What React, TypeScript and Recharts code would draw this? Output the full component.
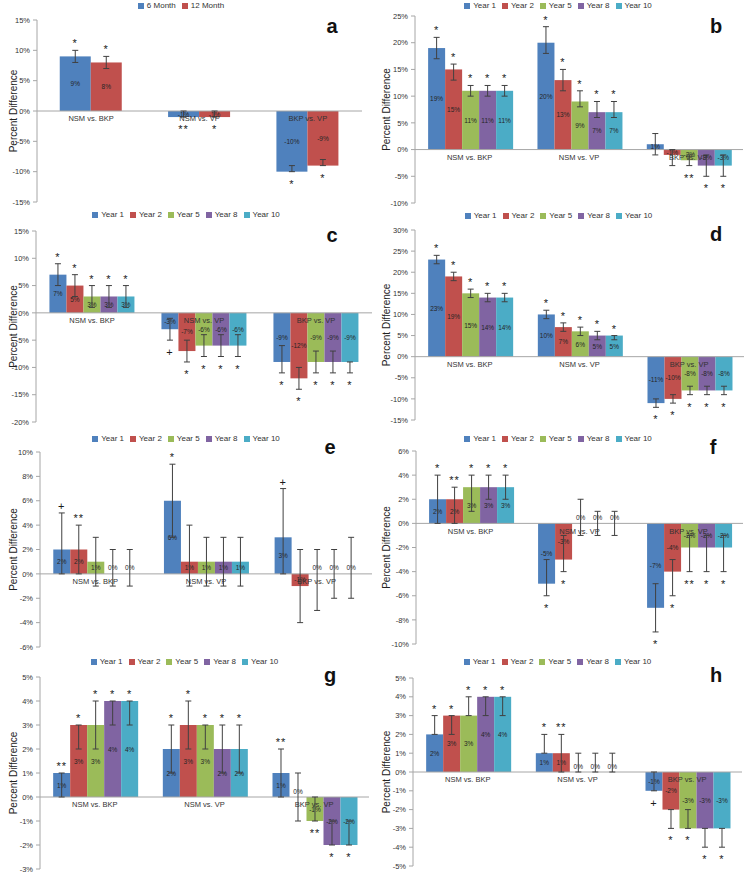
import React from "react";
import {
  Bar,
  BarChart,
  ErrorBar,
  Legend,
  ReferenceDot,
  ReferenceLine,
  XAxis,
  YAxis,
} from "recharts";

const categories = ["NSM vs. BKP", "NSM vs. VP", "BKP vs. VP"];
const monthSeries = ["6 Month", "12 Month"];
const yearSeries = ["Year 1", "Year 2", "Year 5", "Year 8", "Year 10"];
const monthColors = ["#4F81BD", "#C0504D"];
const yearColors = ["#4F81BD", "#C0504D", "#9BBB59", "#8064A2", "#4BACC6"];

// each row is a series, columns follow categories
const aValues = [[9, -1, -10], [8, -1, -9]];
const aLow = [[8, -1, -10], [7, -1, -9]];
const aHigh = [[10, 0, -9], [9, 0, -8]];
const aMarks = [["*", "**", "*"], ["*", "*", "*"]];
const aTicks = [-15, -10, -5, 0, 5, 10, 15];

const bValues = [[19, 20, 1], [15, 13, -1], [11, 9, -2], [11, 7, -3], [11, 7, -3]];
const bLow = [[17, 18, -1], [13, 11, -3], [10, 8, -3], [10, 6, -5], [10, 6, -5]];
const bHigh = [[21, 23, 3], [16, 15, 0], [12, 11, -1], [12, 9, -1], [12, 9, -1]];
const bMarks = [["*", "*", ""], ["*", "*", ""], ["*", "*", "**"], ["*", "*", "*"], ["*", "*", "*"]];
const bTicks = [-10, -5, 0, 5, 10, 15, 20, 25];

const cValues = [[7, -3, -9], [5, -7, -12], [3, -6, -9], [3, -6, -9], [3, -6, -9]];
const cLow = [[5, -5, -11], [3, -9, -14], [1, -8, -11], [1, -8, -11], [1, -8, -11]];
const cHigh = [[9, -1, -6], [7, -5, -10], [5, -4, -7], [5, -4, -7], [5, -4, -9]];
const cMarks = [["*", "+", "*"], ["*", "*", "*"], ["*", "*", "*"], ["*", "*", "*"], ["*", "*", "*"]];
const cTicks = [-20, -15, -10, -5, 0, 5, 10, 15];

const dValues = [[23, 10, -11], [19, 7, -10], [15, 6, -8], [14, 5, -8], [14, 5, -8]];
const dLow = [[22, 9, -12], [18, 6, -11], [14, 5, -9], [13, 4, -9], [13, 4, -9]];
const dHigh = [[24, 11, -10], [20, 8, -9], [16, 7, -7], [15, 6, -7], [15, 5, -7]];
const dMarks = [["*", "*", "*"], ["*", "*", "*"], ["*", "*", "*"], ["*", "*", "*"], ["*", "*", "*"]];
const dTicks = [-15, -10, -5, 0, 5, 10, 15, 20, 25, 30];

const eValues = [[2, 6, 3], [2, 1, -1], [1, 1, 0], [0, 1, 0], [0, 1, 0]];
const eLow = [[0, 3, 0], [0, -1, -4], [-1, -1, -3], [-1, -1, -2], [-1, -1, -2]];
const eHigh = [[5, 9, 7], [4, 4, 2], [3, 3, 2], [2, 3, 2], [2, 3, 3]];
const eMarks = [["+", "*", "+"], ["**", "", ""], ["", "", ""], ["", "", ""], ["", "", ""]];
const eTicks = [-6, -4, -2, 0, 2, 4, 6, 8, 10];

const fValues = [[2, -5, -7], [2, -3, -4], [3, 0, -2], [3, 0, -2], [3, 0, -2]];
const fLow = [[0, -6, -9], [0, -4, -6], [1, -1, -4], [2, -1, -4], [2, -1, -4]];
const fHigh = [[4, -3, -5], [3, -1, -3], [4, 2, -1], [4, 1, -1], [4, 1, -1]];
const fMarks = [["*", "*", "*"], ["**", "*", "*"], ["*", "", "**"], ["*", "", "*"], ["*", "", "*"]];
const fTicks = [-10, -8, -6, -4, -2, 0, 2, 4, 6];

const gValues = [[1, 2, 1], [3, 3, 0], [3, 3, -1], [4, 2, -2], [4, 2, -2]];
const gLow = [[0, 1, 0], [2, 2, -1], [2, 2, -1], [3, 1, -2], [3, 1, -2]];
const gHigh = [[1, 3, 2], [3, 4, 1], [4, 3, 0], [4, 3, -1], [4, 3, -1]];
const gMarks = [["**", "*", "**"], ["*", "*", ""], ["*", "*", "**"], ["*", "*", "*"], ["*", "*", "*"]];
const gTicks = [-3, -2, -1, 0, 1, 2, 3, 4, 5];

const hValues = [[2, 1, -1], [3, 1, -2], [3, 0, -3], [4, 0, -3], [4, 0, -3]];
const hLow = [[2, 1, -1], [2, 0, -3], [3, 0, -3], [3, 0, -4], [3, 0, -4]];
const hHigh = [[3, 2, 0], [3, 2, -2], [4, 1, -2], [4, 1, -3], [4, 1, -3]];
const hMarks = [["*", "*", "+"], ["*", "**", "*"], ["*", "", "*"], ["*", "", "*"], ["*", "", "*"]];
const hTicks = [-5, -4, -3, -2, -1, 0, 1, 2, 3, 4, 5];

function buildRows(values: number[][], lows: number[][], highs: number[][], marks: string[][]) {
  return categories.map((name, c) => {
    const row: Record<string, any> = { name };
    values.forEach((vals, s) => {
      const v = vals[c];
      row[`s${s}`] = v;
      row[`s${s}_err`] = [v - lows[s][c], highs[s][c] - v];
      row[`s${s}_lo`] = lows[s][c];
      row[`s${s}_hi`] = highs[s][c];
      row[`s${s}_mark`] = marks[s][c];
    });
    return row;
  });
}

function MarkedBar(props: any) {
  const { x, y, width, height, fill, background, payload, sk, domain, plot } = props;
  const top = Math.min(y, y + height);
  const h = Math.abs(height);
  const area = background && background.height ? background : plot;
  const toPx = (v: number) =>
    area.y + ((domain[1] - v) / (domain[1] - domain[0])) * area.height;
  const v = payload[sk];
  const mark = payload[`${sk}_mark`];
  const cx = x + width / 2;
  const labelY = h < 1 ? top - 6 : top + h / 2;
  const markY = v >= 0 ? toPx(payload[`${sk}_hi`]) - 7 : toPx(payload[`${sk}_lo`]) + 12;
  return (
    <g>
      <rect x={x} y={top} width={width} height={h} fill={fill} />
      <text x={cx} y={labelY} textAnchor="middle" dominantBaseline="central" fontSize={6.5} fill="#262626">
        {`${v}%`}
      </text>
      {mark ? (
        <text x={cx} y={markY} textAnchor="middle" dominantBaseline="central" fontSize={11} fill="#1a1a1a" letterSpacing={1}>
          {mark}
        </text>
      ) : null}
    </g>
  );
}

function SwatchLegend({ payload, order }: { payload?: any[]; order: string[] }) {
  const items = [...(payload || [])].sort((p, q) => order.indexOf(p.value) - order.indexOf(q.value));
  return (
    <div style={{ display: "flex", justifyContent: "center", alignItems: "center", gap: 6, fontSize: 8, color: "#333", lineHeight: "12px", whiteSpace: "nowrap" }}>
      {items.map((p) => (
        <span key={p.value} style={{ display: "inline-flex", alignItems: "center" }}>
          <span style={{ width: 6, height: 6, background: p.color, marginRight: 3, display: "inline-block" }} />
          {p.value}
        </span>
      ))}
    </div>
  );
}

function AxisTitle({ viewBox }: any) {
  if (!viewBox) return null;
  const cx = viewBox.x + 13;
  const cy = viewBox.y + viewBox.height / 2;
  return (
    <text x={cx} y={cy} transform={`rotate(-90, ${cx}, ${cy})`} textAnchor="middle" dominantBaseline="central" fontSize={10} fill="#222">
      Percent Difference
    </text>
  );
}

type PanelProps = {
  letter: string;
  left: number;
  legendY: number;
  plotTop: number;
  plotBottom: number;
  axisX: number;
  plotRight: number;
  letterX: number;
  letterBase: number;
  series: string[];
  colors: string[];
  rows: Record<string, any>[];
  ticks: number[];
  gap: string;
};

function Panel(p: PanelProps) {
  const W = 373;
  const top = p.legendY - 6;
  const marginTop = p.plotTop - top;
  const marginBottom = 6;
  const H = p.plotBottom - top + marginBottom;
  const domain = [p.ticks[0], p.ticks[p.ticks.length - 1]];
  const plot = { y: marginTop, height: p.plotBottom - p.plotTop };
  return (
    <div style={{ position: "absolute", left: p.left, top, width: W, height: H }}>
      <BarChart
        width={W}
        height={H}
        data={p.rows}
        margin={{ top: marginTop, bottom: marginBottom, left: 0, right: p.left + W - p.plotRight }}
        barGap={0}
        barCategoryGap={p.gap}
      >
        <XAxis dataKey="name" hide />
        <YAxis
          domain={domain}
          ticks={p.ticks}
          allowDataOverflow
          interval={0}
          width={p.axisX - p.left}
          tickFormatter={(v) => `${v}%`}
          tick={{ fontSize: 7.5, fill: "#333" }}
          tickSize={4}
          tickMargin={3}
          axisLine={{ stroke: "#a6a6a6" }}
          tickLine={{ stroke: "#a6a6a6" }}
          label={{ content: (lp: any) => <AxisTitle viewBox={lp.viewBox} /> }}
        />
        <Legend
          verticalAlign="middle"
          align="center"
          wrapperStyle={{ top: 0 }}
          content={(lp: any) => <SwatchLegend payload={lp.payload} order={p.series} />}
        />
        <ReferenceLine y={0} stroke="#a6a6a6" />
        {p.series.map((name, s) => (
          <Bar
            key={name}
            dataKey={`s${s}`}
            name={name}
            fill={p.colors[s]}
            isAnimationActive={false}
            shape={(sp: any) => <MarkedBar {...sp} sk={`s${s}`} domain={domain} plot={plot} />}
          >
            <ErrorBar dataKey={`s${s}_err`} width={3} stroke="#404040" strokeWidth={1} />
          </Bar>
        ))}
        {categories.map((cat) => (
          <ReferenceDot
            key={cat}
            x={cat}
            y={0}
            r={0}
            fill="none"
            stroke="none"
            label={{ value: cat, position: "bottom", offset: 5, fontSize: 7.5, fill: "#333" }}
          />
        ))}
      </BarChart>
      <div
        style={{
          position: "absolute",
          left: p.letterX - p.left,
          top: p.letterBase - top - 17,
          transform: "translateX(-50%)",
          fontSize: 20,
          lineHeight: "20px",
          fontWeight: "bold",
          color: "#111",
        }}
      >
        {p.letter}
      </div>
    </div>
  );
}

export default function App() {
  return (
    <div
      style={{
        position: "absolute",
        left: 0,
        top: 0,
        width: 746,
        height: 874,
        background: "#fff",
        overflow: "hidden",
        fontFamily: '"Liberation Sans", Arial, sans-serif',
      }}
    >
      <Panel letter="a" left={0} legendY={6} plotTop={20} plotBottom={202} axisX={37} plotRight={362} letterX={332} letterBase={33}
        series={monthSeries} colors={monthColors} rows={buildRows(aValues, aLow, aHigh, aMarks)} ticks={aTicks} gap="21%" />
      <Panel letter="b" left={373} legendY={6} plotTop={16} plotBottom={203} axisX={415} plotRight={743} letterX={716} letterBase={33}
        series={yearSeries} colors={yearColors} rows={buildRows(bValues, bLow, bHigh, bMarks)} ticks={bTicks} gap="12%" />
      <Panel letter="c" left={0} legendY={215} plotTop={231} plotBottom={422} axisX={36} plotRight={372} letterX={332} letterBase={242}
        series={yearSeries} colors={yearColors} rows={buildRows(cValues, cLow, cHigh, cMarks)} ticks={cTicks} gap="12%" />
      <Panel letter="d" left={373} legendY={216} plotTop={230} plotBottom={420} axisX={415} plotRight={744} letterX={716} letterBase={241}
        series={yearSeries} colors={yearColors} rows={buildRows(dValues, dLow, dHigh, dMarks)} ticks={dTicks} gap="12%" />
      <Panel letter="e" left={0} legendY={439} plotTop={452} plotBottom={647} axisX={40} plotRight={372} letterX={330} letterBase={454}
        series={yearSeries} colors={yearColors} rows={buildRows(eValues, eLow, eHigh, eMarks)} ticks={eTicks} gap="12%" />
      <Panel letter="f" left={373} legendY={439} plotTop={451} plotBottom={644} axisX={416} plotRight={743} letterX={713} letterBase={454}
        series={yearSeries} colors={yearColors} rows={buildRows(fValues, fLow, fHigh, fMarks)} ticks={fTicks} gap="12%" />
      <Panel letter="g" left={0} legendY={662} plotTop={677} plotBottom={869} axisX={40} plotRight={369} letterX={330} letterBase={682}
        series={yearSeries} colors={yearColors} rows={buildRows(gValues, gLow, gHigh, gMarks)} ticks={gTicks} gap="12%" />
      <Panel letter="h" left={373} legendY={662} plotTop={678} plotBottom={866} axisX={413} plotRight={742} letterX={716} letterBase={682}
        series={yearSeries} colors={yearColors} rows={buildRows(hValues, hLow, hHigh, hMarks)} ticks={hTicks} gap="12%" />
    </div>
  );
}
